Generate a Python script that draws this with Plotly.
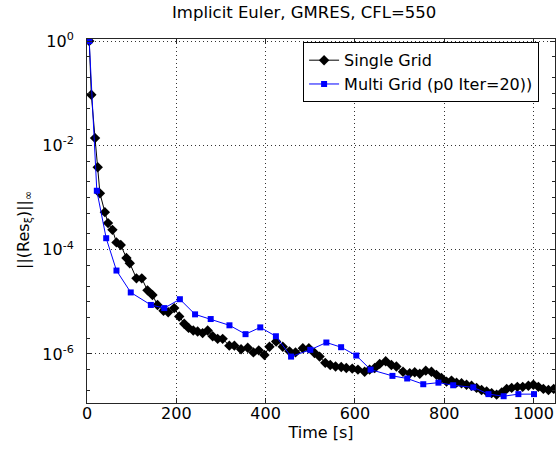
import plotly.graph_objects as go

# Single Grid (black diamonds): time [s], log10 residual
sg_t = [5, 9.7, 18, 24, 29, 40, 47, 57, 66, 75.6, 88.3, 95.8, 110.7, 122.7, 135.4, 146.6,
        157.9, 171.3, 181.8, 195.3, 206.5, 217.7, 227.5, 238, 247.7, 258.9, 270.2, 281.4,
        292.6, 303.8, 318.7, 330, 345, 359.9, 372.6, 384.6, 397.3, 408.6, 423.5, 438.4,
        453.4, 466.9, 483.3, 496.8, 509.5, 520.8, 533.5, 544.7, 556.6, 569.3, 580.7, 594,
        606.7, 621.7, 632.9, 644.2, 655.4, 668.9, 681.6, 692.8, 707.7, 722.7, 733.9, 745.2,
        758.6, 771.3, 782.6, 793.8, 805, 816.2, 827.5, 838.7, 849.9, 861.1, 872.4, 883.6,
        894.9, 906.1, 917.3, 928.6, 939.8, 951, 963.7, 975.7, 988.4, 999.6, 1010.8, 1022,
        1033.3, 1045]
sg_log = [0.0, -1.03, -1.86, -2.42, -2.92, -3.28, -3.49, -3.62, -3.86, -3.91, -4.16, -4.26,
          -4.55, -4.55, -4.78, -4.87, -5.06, -5.17, -5.20, -5.12, -5.28, -5.42, -5.50, -5.55,
          -5.57, -5.60, -5.55, -5.66, -5.71, -5.71, -5.84, -5.84, -5.91, -5.88, -5.97, -5.93,
          -6.02, -5.86, -5.76, -5.86, -5.95, -5.97, -5.89, -5.89, -5.98, -6.05, -6.17, -6.21,
          -6.24, -6.25, -6.27, -6.28, -6.30, -6.34, -6.30, -6.27, -6.19, -6.14, -6.21, -6.24,
          -6.34, -6.37, -6.35, -6.38, -6.32, -6.34, -6.40, -6.46, -6.53, -6.51, -6.55, -6.56,
          -6.59, -6.61, -6.65, -6.69, -6.72, -6.75, -6.78, -6.74, -6.67, -6.65, -6.63, -6.63,
          -6.61, -6.59, -6.63, -6.67, -6.69, -6.67]

# Multi Grid (blue squares)
mg_t = [5, 22, 43, 66, 98, 143, 173, 208, 242, 277, 319, 355, 388, 423, 457, 500, 536, 569,
        603, 635, 684, 717, 753, 787, 820, 865, 899, 933, 966, 1001]
mg_log = [0.0, -2.87, -3.78, -4.40, -4.82, -5.06, -5.12, -4.95, -5.24, -5.33, -5.45, -5.62,
          -5.49, -5.66, -6.05, -5.92, -5.78, -5.87, -6.03, -6.30, -6.42, -6.47, -6.58, -6.55,
          -6.60, -6.64, -6.77, -6.81, -6.77, -6.77]

sg_res = [10 ** v for v in sg_log]
mg_res = [10 ** v for v in mg_log]

y_tickvals = [1e-6, 1e-4, 1e-2, 1]
y_ticktext = ["10<sup>-6</sup>", "10<sup>-4</sup>", "10<sup>-2</sup>", "10<sup>0</sup>"]
x_tickvals = [0, 200, 400, 600, 800, 1000]

FONT = "DejaVu Sans, Verdana, sans-serif"

fig = go.Figure()
fig.add_trace(go.Scatter(
    x=sg_t, y=sg_res, mode="lines+markers", name="Single Grid",
    line=dict(color="black", width=1),
    marker=dict(symbol="diamond", size=8, color="black"),
))
fig.add_trace(go.Scatter(
    x=mg_t, y=mg_res, mode="lines+markers", name="Multi Grid (p0 Iter=20))",
    line=dict(color="blue", width=1),
    marker=dict(symbol="square", size=6, color="blue"),
))

axis_common = dict(
    showline=True, linecolor="#262626", linewidth=1, mirror="allticks",
    ticks="inside", ticklen=5, tickcolor="#262626",
    showgrid=True, gridcolor="#333333", griddash="1px,3px", gridwidth=1,
    zeroline=False,
    tickfont=dict(family=FONT, size=16, color="black"),
)

fig.update_xaxes(
    range=[0, 1048], tickvals=x_tickvals,
    ticklabelstandoff=-4,
    title=dict(text="Time [s]", font=dict(family=FONT, size=16, color="black"), standoff=4),
    **axis_common,
)
fig.update_yaxes(
    type="log", range=[-6.94, 0.04], tickvals=y_tickvals, ticktext=y_ticktext,
    ticklabelstandoff=9,
    minor=dict(ticks="inside", ticklen=3, tickcolor="#262626", showgrid=False),
    **axis_common,
)

fig.add_annotation(
    text="||(Res<sub>ξ</sub>)||<sub>∞</sub>",
    xref="paper", yref="paper", x=-0.135, y=0.475,
    xanchor="center", yanchor="middle", textangle=-90, showarrow=False,
    font=dict(family=FONT, size=16, color="black"),
)

fig.update_layout(
    width=558, height=461,
    margin=dict(l=87, r=3, t=39, b=58),
    paper_bgcolor="white", plot_bgcolor="white",
    title=dict(text="Implicit Euler, GMRES, CFL=550", x=0.545, xanchor="center",
               y=0.985, yanchor="top",
               font=dict(family=FONT, size=16.5, color="black")),
    showlegend=True,
    legend=dict(x=0.966, xanchor="right", y=0.991, yanchor="top",
                bgcolor="white", bordercolor="black", borderwidth=1,
                font=dict(family=FONT, size=16, color="black"),
                tracegroupgap=0, itemwidth=30),
)

fig.write_html("out.html")
